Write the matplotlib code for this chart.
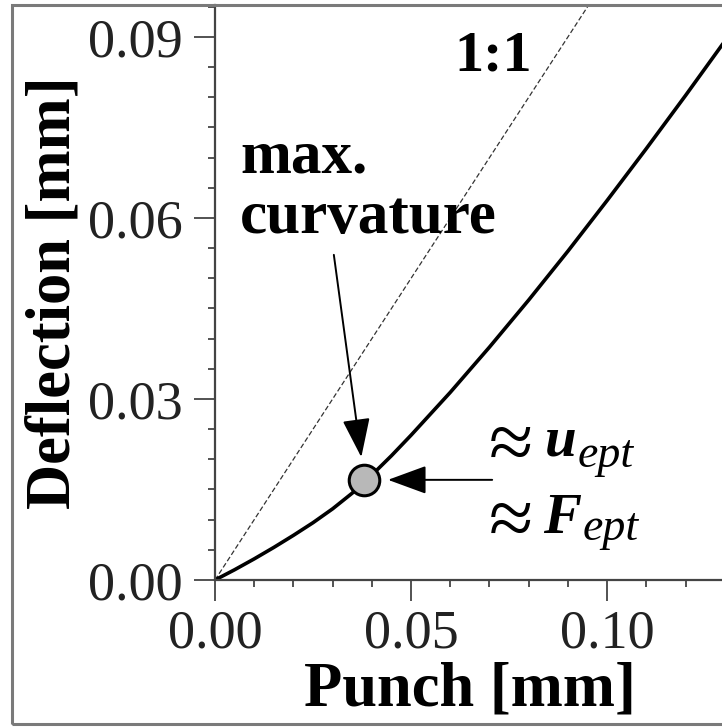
import matplotlib
matplotlib.use("Agg")
import matplotlib.pyplot as plt
from matplotlib.patches import Rectangle
from matplotlib.ticker import MultipleLocator, FormatStrFormatter

# ---- data ----
punch = [0.000, 0.005, 0.010, 0.015, 0.020, 0.025, 0.030, 0.035, 0.040, 0.045,
         0.050, 0.060, 0.070, 0.080, 0.090, 0.100, 0.110, 0.120, 0.130]
deflection = [0.0, 0.0017, 0.0035, 0.0054, 0.0074, 0.0095, 0.0118, 0.0144, 0.0174, 0.0206,
              0.0240, 0.0311, 0.0386, 0.0464, 0.0545, 0.0629, 0.0715, 0.0803, 0.0893]
one_to_one = [0.0, 0.2]
max_curv_point = (0.0381, 0.0166)
x_ticks = [0.00, 0.05, 0.10]
y_ticks = [0.00, 0.03, 0.06, 0.09]

plt.rcParams['font.family'] = ['Liberation Serif', 'DejaVu Serif']

W, H = 722, 727
fig = plt.figure(figsize=(W / 100, H / 100), dpi=100)
fig.patch.set_facecolor('white')


def fx(px):
    return px / W


def fy(py):
    return 1 - py / H


ax_l, ax_b, ax_t = 215, 580, 5
ax = fig.add_axes([ax_l / W, 1 - ax_b / H, (W - ax_l) / W, (ax_b - ax_t) / H])
ax.set_xlim(0, 0.1293)
ax.set_ylim(0, 0.0953)

# 1:1 line
ax.plot(one_to_one, one_to_one, color='#333333', lw=0.9, linestyle=(0, (4, 2)))
# main curve
ax.plot(punch, deflection, color='black', lw=2.6, solid_joinstyle='round',
        solid_capstyle='round')
# max curvature marker
ax.plot([max_curv_point[0]], [max_curv_point[1]], marker='o', ms=22,
        markerfacecolor='#b8b8b8', markeredgecolor='black', markeredgewidth=2.2,
        linestyle='none', zorder=5)

# arrows
ax.annotate('', xy=max_curv_point, xytext=(-22, 162), textcoords='offset points',
            arrowprops=dict(arrowstyle='-|>,head_length=0.9,head_width=0.32',
                            mutation_scale=27, color='black', lw=1.4,
                            shrinkA=0, shrinkB=16.5), zorder=6)
ax.annotate('', xy=max_curv_point, xytext=(92, 0), textcoords='offset points',
            arrowprops=dict(arrowstyle='-|>,head_length=0.9,head_width=0.33',
                            mutation_scale=27, color='black', lw=1.4,
                            shrinkA=0, shrinkB=17), zorder=6)

# texts
ax.text(0.0709, 0.0845, '1:1', fontsize=42, fontweight='bold', ha='center', va='baseline')
ax.text(0.0064, 0.0675, 'max.', fontsize=44, fontweight='bold', ha='left', va='baseline')
ax.text(0.0064, 0.0575, 'curvature', fontsize=44, fontweight='bold', ha='left', va='baseline')

# ≈ u_ept / ≈ F_ept built from pieces
fig.text(fx(489), fy(469), '\u2248', fontsize=58, ha='left', va='baseline')
fig.text(fx(545), fy(455), 'u', fontsize=41, fontweight='bold', fontstyle='italic',
         ha='left', va='baseline')
fig.text(fx(578), fy(467), 'ept', fontsize=33, fontstyle='italic', ha='left', va='baseline')
fig.text(fx(489), fy(545), '\u2248', fontsize=58, ha='left', va='baseline')
fig.text(fx(543), fy(533), 'F', fontsize=41, fontweight='bold', fontstyle='italic',
         ha='left', va='baseline')
fig.text(fx(583), fy(540), 'ept', fontsize=33, fontstyle='italic', ha='left', va='baseline')

# axes styling
for s in ['top', 'right']:
    ax.spines[s].set_visible(False)
for s in ['left', 'bottom']:
    ax.spines[s].set_color('#444444')
    ax.spines[s].set_linewidth(1.6)

ax.set_xticks(x_ticks)
ax.set_yticks(y_ticks)
ax.xaxis.set_major_formatter(FormatStrFormatter('%.2f'))
ax.yaxis.set_major_formatter(FormatStrFormatter('%.2f'))
ax.xaxis.set_minor_locator(MultipleLocator(0.01))
ax.yaxis.set_minor_locator(MultipleLocator(0.005))
ax.tick_params(which='major', direction='out', length=15, width=1.3, color='#444444',
               labelsize=39, labelcolor='#222222')
ax.tick_params(axis='y', which='major', pad=8)
ax.tick_params(axis='x', which='major', pad=6)
ax.tick_params(which='minor', direction='out', length=5, width=1.3, color='#444444')

ax.set_xlabel('Punch [mm]', fontsize=45, fontweight='bold', va='baseline')
ax.xaxis.set_label_coords(fx(470), fy(705), transform=fig.transFigure)
ax.set_ylabel('Deflection [mm]', fontsize=45, fontweight='bold', va='baseline')
ax.yaxis.set_label_coords(fx(70), fy(293), transform=fig.transFigure)

# figure frame
fig.patches.append(Rectangle((fx(12), fy(724)), 2.0, (724 - 5) / H,
                             transform=fig.transFigure, fill=False,
                             edgecolor='#7a7a7a', lw=2.2, zorder=10))

fig.savefig('out.png', dpi=100)
